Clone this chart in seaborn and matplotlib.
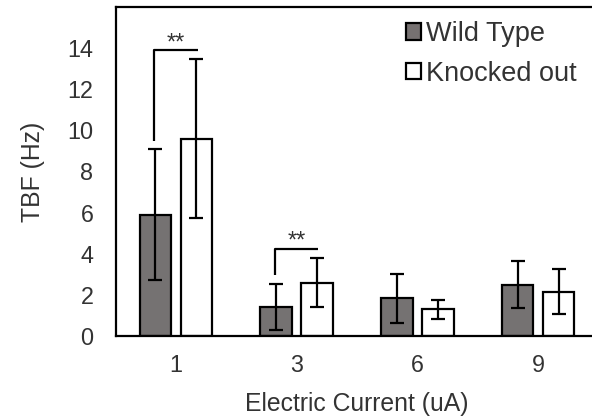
import matplotlib
matplotlib.use("Agg")
import matplotlib.pyplot as plt
import seaborn as sns
import pandas as pd
from matplotlib.patches import Patch

# ---- data ----
currents = ["1", "3", "6", "9"]
groups = ["Wild Type", "Knocked out"]
wild_mean = [5.9, 1.42, 1.83, 2.5]
wild_err = [3.2, 1.13, 1.18, 1.14]
ko_mean = [9.6, 2.6, 1.3, 2.15]
ko_err = [3.85, 1.18, 0.46, 1.1]
sig_pairs = [0, 1]            # category indices with "**"
sig_low = [9.5, 2.95]         # bottom of left bracket leg
sig_high = [13.9, 4.24]       # bracket height
yticks = [0, 2, 4, 6, 8, 10, 12, 14]

df = pd.DataFrame({
    "current": currents * 2,
    "group": [groups[0]] * 4 + [groups[1]] * 4,
    "tbf": wild_mean + ko_mean,
})

sns.set_theme(style="white")
plt.rcParams["font.family"] = ["Liberation Sans", "DejaVu Sans"]
txt = "#333333"

fig = plt.figure(figsize=(5.92, 4.19), dpi=100)
ax = fig.add_axes([115.5 / 592, 83 / 419, 483 / 592, 329 / 419])

sns.barplot(data=df, x="current", y="tbf", hue="group", order=currents,
            hue_order=groups, palette=["#767171", "#ffffff"], width=0.68,
            gap=0.235, edgecolor="black", linewidth=1.6, ax=ax, legend=False)

errs = [wild_err, ko_err]
means = [wild_mean, ko_mean]
bar_conts = list(ax.containers)
centers = []
for k, cont in enumerate(bar_conts):
    xs = [p.get_x() + p.get_width() / 2 for p in cont.patches]
    centers.append(xs)
for k in range(2):
    ax.errorbar(centers[k], means[k], yerr=errs[k], fmt="none", ecolor="black",
                elinewidth=1.6, capsize=4.8, capthick=1.6, zorder=5)

for i, idx in enumerate(sig_pairs):
    x0 = centers[0][idx] - 0.01
    x1 = centers[1][idx] + 0.01
    ax.plot([x0, x0, x1], [sig_low[i], sig_high[i], sig_high[i]],
            color="black", lw=1.6, solid_capstyle="butt", zorder=6)
    ax.text((x0 + x1) / 2, sig_high[i] + 0.05, "**", ha="center",
            va="baseline", fontsize=17, color=txt)

ax.set_xlim(-0.5, 3.5)
ax.set_ylim(0, 16)
ax.set_yticks(yticks)
ax.tick_params(axis="both", length=0, labelsize=16.8, colors=txt)
ax.tick_params(axis="y", pad=16)
ax.tick_params(axis="x", pad=13)
ax.set_xlabel("Electric Current (uA)", fontsize=17.8, color=txt, labelpad=11)
ax.set_ylabel("TBF (Hz)", fontsize=17.8, color=txt, labelpad=16)

for s in ["left", "bottom", "top"]:
    ax.spines[s].set_visible(True)
    ax.spines[s].set_color("black")
    ax.spines[s].set_linewidth(1.6)
ax.spines["right"].set_visible(False)

handles = [Patch(facecolor="#767171", edgecolor="black", linewidth=1.6),
           Patch(facecolor="white", edgecolor="black", linewidth=1.6)]
ax.legend(handles, groups, loc="upper left",
          bbox_to_anchor=(406 / 592, 1 - 21 / 419), bbox_transform=fig.transFigure,
          frameon=False, fontsize=19.5, handlelength=0.55, handleheight=0.55,
          handletextpad=0.2, labelspacing=0.5, borderpad=0, borderaxespad=0,
          labelcolor=txt)

fig.savefig("out.png", dpi=100)
